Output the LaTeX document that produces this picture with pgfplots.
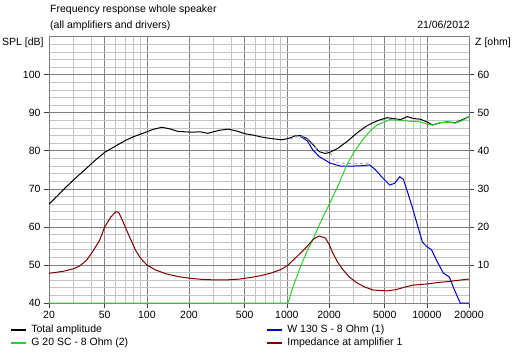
\documentclass[border=0pt]{standalone}
\usepackage{fontspec}
\setmainfont{Liberation Sans}
\usepackage{pgfplots}
\pgfplotsset{compat=1.18}
\definecolor{majgrid}{RGB}{128,128,128}
\definecolor{mingrid}{RGB}{196,196,196}
\definecolor{cgreen}{RGB}{40,210,40}
\definecolor{cblue}{RGB}{0,0,200}
\definecolor{cred}{RGB}{128,0,0}
\definecolor{cdash}{RGB}{150,150,200}
\newcommand\fs{\fontsize{10.5bp}{13bp}\selectfont}

\begin{document}
\begin{tikzpicture}[x=1bp,y=1bp]
\path[use as bounding box] (0,0) rectangle (518,363);
\begin{axis}[
  at={(49bp,60bp)}, anchor=south west,
  scale only axis, width=420bp, height=266.3bp,
  xmode=log, xmin=20, xmax=20000, ymin=40, ymax=110,
  xtick={20,50,100,200,500,1000,2000,5000,10000,20000},
  xticklabels={20,50,100,200,500,1000,2000,5000,10000,20000},
  minor xtick={30,40,60,70,80,90,300,400,600,700,800,900,3000,4000,6000,7000,8000,9000},
  ytick={40,50,...,100},
  minor ytick={42,44,...,108},
  grid=both,
  major grid style={majgrid, line width=0.7bp},
  minor grid style={mingrid, line width=0.7bp},
  axis line style={majgrid, line width=0.7bp},
  tick pos=left, tick align=outside, major tick length=5bp, minor tick length=0pt,
  tick style={black!75, line width=0.7bp},
  ticklabel style={font=\fs},
  /pgf/number format/assume math mode=true,
  legend style={at={(axis description cs:-0.093,-0.0799)}, anchor=north west,
    draw=none, fill=none, font=\fs, inner sep=0pt, row sep=2bp,
    nodes={inner sep=0pt, text height=8bp, text depth=3bp},
    /tikz/every even column/.append style={column sep=138bp},
    /tikz/every odd column/.append style={column sep=5bp}},
  legend columns=2, legend cell align=left,
]
% total
\addplot[black, line width=1bp,
  legend image code/.code={\draw[black, line width=1.2bp] (0bp,0bp) -- (15bp,0bp);}] coordinates {
(20,66.0) (23,68.2) (26,70.2) (30,72.4) (36,75.0) (43,77.6) (50,79.6)
(60,81.3) (70,82.7) (80,83.7) (97,84.8) (110,85.6) (128,86.2) (145,85.8)
(167,85.1) (210,84.9) (240,85.0) (272,84.6) (330,85.4) (381,85.7) (440,85.2)
(502,84.5) (580,84.1) (664,83.6) (780,83.2) (922,82.9) (1040,83.3) (1140,83.9)
(1250,84.0) (1400,83.2) (1550,81.5) (1700,79.8) (1880,79.3) (2030,79.6)
(2300,80.6) (2700,82.5) (3200,84.8) (3700,86.5) (4140,87.4) (4500,88.0)
(5200,88.7) (6000,88.4) (6500,88.2) (7240,89.0) (8000,88.5) (9000,88.3)
(10000,87.6) (11000,86.8) (12500,87.4) (14000,87.6) (16000,87.4) (17500,88.0)
(20000,89.0)};
\addlegendentry{Total amplitude}

% blue woofer (below 1250 Hz it lies under the total curve)
\addplot[cblue, line width=1bp,
  legend image code/.code={\draw[cblue, line width=1.2bp] (0bp,0bp) -- (15bp,0bp);}] coordinates {
(1250,83.8) (1400,82.6) (1530,80.3) (1700,78.5) (2030,76.8) (2400,76.0)
(3000,76.0) (3500,76.1) (3900,76.3) (4300,75.0) (4800,73.0) (5440,71.0)
(5900,71.5) (6400,73.2) (6800,72.5) (7300,69.0) (7900,65.0) (8480,61.0)
(9300,56.0) (10000,54.8) (10800,54.0) (11800,51.0) (13100,47.9) (14500,46.8)
(15500,44.0) (17300,40.0) (20000,40.0)};
\addlegendentry{W 130 S - 8 Ohm (1)}

% green tweeter
\addplot[cgreen, line width=1bp,
  legend image code/.code={\draw[cgreen, line width=1.2bp] (0bp,0bp) -- (15bp,0bp);}] coordinates {
(20,40) (1018,40) (1100,44) (1250,49.5) (1400,53.8) (1530,56.6) (1700,60.5)
(2030,66.3) (2300,70.5) (2680,76.3) (3000,79.5) (3480,82.9) (4000,85.5)
(4400,86.8) (5440,88.2) (6500,88.0) (7500,87.8) (9000,87.6) (10000,87.0)
(11000,86.8) (12500,87.4) (14000,87.5) (16000,87.3) (18000,88.0) (20000,89.0)};
\addlegendentry{G 20 SC - 8 Ohm (2)}

\addlegendimage{legend image code/.code={\draw[cred, line width=1.2bp] (0bp,0bp) -- (15bp,0bp);}}
\addlegendentry{Impedance at amplifier 1}

% dashed reference trace
\addplot[cdash, dashed, line width=0.8bp, forget plot] coordinates {
(1048,83.1) (1240,83.9) (1400,83.2) (1530,82.0) (1660,80.1) (2030,79.8)
(2200,76.9) (3000,76.6) (3900,76.8)};
\end{axis}

\begin{axis}[
  at={(49bp,60bp)}, anchor=south west,
  scale only axis, width=420bp, height=266.3bp,
  xmode=log, xmin=20, xmax=20000, ymin=0, ymax=70,
  axis x line=none, axis y line*=right,
  ytick={10,20,...,60},
  axis line style={majgrid, line width=0.7bp},
  tick align=outside, major tick length=5bp, minor tick length=0pt,
  tick style={black!75, line width=0.7bp},
  ticklabel style={font=\fs},
  /pgf/number format/assume math mode=true,
]
\addplot[cred, line width=1bp] coordinates {
(20,7.8) (25,8.3) (30,9.0) (33,9.7) (37,11.2) (41,13.5) (46,16.5) (50,20.0)
(55,22.5) (60,24.0) (63,23.8) (67.5,21.4) (75,17.5) (83,13.9) (90,11.8)
(100,10.0) (115,8.7) (139,7.6) (170,6.9) (203,6.5) (250,6.2) (317,6.05)
(380,6.1) (461,6.3) (550,6.7) (650,7.2) (760,7.8) (894,8.7) (1000,9.7)
(1180,12.2) (1390,14.8) (1550,16.8) (1700,17.6) (1880,17.1) (2000,15.5)
(2130,13.1) (2300,10.8) (2520,8.7) (2800,6.8) (3160,5.3) (3600,4.2)
(4140,3.4) (5200,3.2) (6000,3.5) (7000,4.2) (7960,4.7) (10000,5.0)
(12000,5.4) (14000,5.6) (17000,6.0) (20000,6.3)};
\end{axis}

\node[anchor=base west, font=\fs, inner sep=0pt] at (50,351) {Frequency response whole speaker};
\node[anchor=base west, font=\fs, inner sep=0pt] at (50,335) {(all amplifiers and drivers)};
\node[anchor=base east, font=\fs, inner sep=0pt] at (470,335) {21/06/2012};
\node[anchor=base west, font=\fs, inner sep=0pt] at (2,317.7) {SPL [dB]};
\node[anchor=base west, font=\fs, inner sep=0pt] at (475,317.7) {Z [ohm]};
\end{tikzpicture}
\end{document}
